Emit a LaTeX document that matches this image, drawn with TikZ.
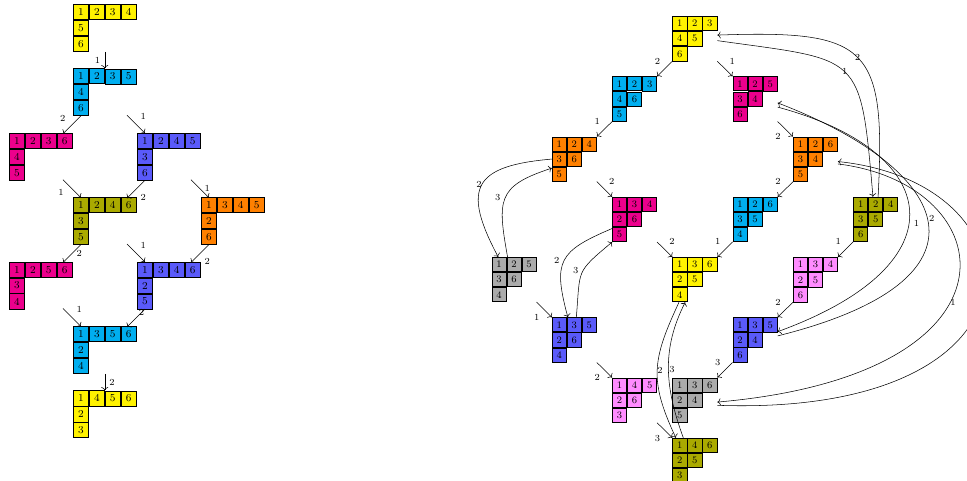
\documentclass[tikz,border=0pt]{standalone}
\usepackage{tikz}
\usepackage{xcolor}
\usetikzlibrary{matrix,arrows.meta,positioning}
\definecolor{tabyellow}{HTML}{FFF200}
\definecolor{tabcyan}{HTML}{00AEEF}
\definecolor{tabmagenta}{HTML}{EC008C}
\definecolor{tabblue}{HTML}{5A5AFA}
\definecolor{taborange}{HTML}{FF8000}
\definecolor{tabolive}{HTML}{AAAA00}
\definecolor{tabgray}{HTML}{ABABAB}
\definecolor{tabpink}{HTML}{FF8CFF}
\tikzset{
  tabcell/.style={
    draw=black, fill=#1, line width=0.6pt,
    inner sep=0pt, outer sep=0pt
  },
  bigtab/.style={
    matrix of nodes, anchor=north west, inner sep=0pt, outer sep=0pt,
    nodes={tabcell=#1, minimum size=4mm, font=\footnotesize}
  },
  smalltab/.style={
    matrix of nodes, anchor=north west, inner sep=0pt, outer sep=0pt,
    nodes={tabcell=#1, minimum size=3.77mm, font=\fontsize{7.5}{9}\selectfont}
  },
  edgelbl/.style={font=\scriptsize}
}
\begin{document}
\begin{tikzpicture}[x=0.0265cm, y=0.0265cm]
\useasboundingbox (0,0) rectangle (967,-480);

% shape (4,1,1)
\matrix[bigtab=tabyellow]  (ly1) at (73,-4)      {1 & 2 & 3 & 4\\ 5\\ 6\\};
\matrix[bigtab=tabcyan]    (lc1) at (73,-68.4)   {1 & 2 & 3 & 5\\ 4\\ 6\\};
\matrix[bigtab=tabmagenta] (lm1) at (9,-132.8)   {1 & 2 & 3 & 6\\ 4\\ 5\\};
\matrix[bigtab=tabblue]    (lb1) at (137,-132.8) {1 & 2 & 4 & 5\\ 3\\ 6\\};
\matrix[bigtab=tabolive]   (lg1) at (73,-197.2)  {1 & 2 & 4 & 6\\ 3\\ 5\\};
\matrix[bigtab=taborange]  (lo1) at (201,-197.2) {1 & 3 & 4 & 5\\ 2\\ 6\\};
\matrix[bigtab=tabmagenta] (lm2) at (9,-261.6)   {1 & 2 & 5 & 6\\ 3\\ 4\\};
\matrix[bigtab=tabblue]    (lb2) at (137,-261.6) {1 & 3 & 4 & 6\\ 2\\ 5\\};
\matrix[bigtab=tabcyan]    (lc2) at (73,-326)    {1 & 3 & 5 & 6\\ 2\\ 4\\};
\matrix[bigtab=tabyellow]  (ly2) at (73,-390.4)  {1 & 4 & 5 & 6\\ 2\\ 3\\};

\draw[->] (ly1.south) -- (lc1.north) node[edgelbl, midway, left] {1};
\draw[->] (lc1-3-1.south) -- ++(-18,-18) node[edgelbl, pos=0.6, above left] {2};
\draw[<-] (lb1-1-1.north) -- ++(-18,18) node[edgelbl, midway, above right] {1};
\draw[<-] (lg1-1-1.north) -- ++(-18,18) node[edgelbl, pos=0.7, below left] {1};
\draw[->] (lb1-3-1.south) -- ++(-18,-18) node[edgelbl, midway, below right] {2};
\draw[<-] (lo1-1-1.north) -- ++(-18,18) node[edgelbl, midway, right] {1};
\draw[->] (lg1-3-1.south) -- ++(-18,-18) node[edgelbl, midway, right] {2};
\draw[<-] (lb2-1-1.north) -- ++(-18,18) node[edgelbl, midway, above right] {1};
\draw[->] (lo1-3-1.south) -- ++(-18,-18) node[edgelbl, midway, below right] {2};
\draw[<-] (lc2-1-1.north) -- ++(-18,18) node[edgelbl, midway, above right] {1};
\draw[->] (lb2-3-1.south) -- ++(-18,-18) node[edgelbl, pos=0.6, above right] {2};
\draw[->] (lc2.south) -- (ly2.north) node[edgelbl, midway, right] {2};

% shape (3,2,1)
\matrix[smalltab=tabyellow]  (ry1) at (672.3,-16)     {1 & 2 & 3\\ 4 & 5\\ 6\\};
\matrix[smalltab=tabcyan]    (rc1) at (612.1,-76.25)  {1 & 2 & 3\\ 4 & 6\\ 5\\};
\matrix[smalltab=tabmagenta] (rm1) at (732.6,-76.25)  {1 & 2 & 5\\ 3 & 4\\ 6\\};
\matrix[smalltab=taborange]  (ro1) at (551.8,-136.5)  {1 & 2 & 4\\ 3 & 6\\ 5\\};
\matrix[smalltab=taborange]  (ro2) at (792.9,-136.5)  {1 & 2 & 6\\ 3 & 4\\ 5\\};
\matrix[smalltab=tabmagenta] (rm2) at (612.1,-196.75) {1 & 3 & 4\\ 2 & 6\\ 5\\};
\matrix[smalltab=tabcyan]    (rc2) at (732.6,-196.75) {1 & 2 & 6\\ 3 & 5\\ 4\\};
\matrix[smalltab=tabolive]   (rg1) at (853.2,-196.75) {1 & 2 & 4\\ 3 & 5\\ 6\\};
\matrix[smalltab=tabgray]    (rk1) at (491.5,-257)    {1 & 2 & 5\\ 3 & 6\\ 4\\};
\matrix[smalltab=tabyellow]  (ry2) at (672.3,-257)    {1 & 3 & 6\\ 2 & 5\\ 4\\};
\matrix[smalltab=tabpink]    (rp2) at (792.9,-257)    {1 & 3 & 4\\ 2 & 5\\ 6\\};
\matrix[smalltab=tabblue]    (rb1) at (551.8,-317.25) {1 & 3 & 5\\ 2 & 6\\ 4\\};
\matrix[smalltab=tabblue]    (rb2) at (732.6,-317.25) {1 & 3 & 5\\ 2 & 4\\ 6\\};
\matrix[smalltab=tabpink]    (rp1) at (612.1,-377.5)  {1 & 4 & 5\\ 2 & 6\\ 3\\};
\matrix[smalltab=tabgray]    (rk2) at (672.3,-377.5)  {1 & 3 & 6\\ 2 & 4\\ 5\\};
\matrix[smalltab=tabolive]   (rg2) at (672.3,-437.75) {1 & 4 & 6\\ 2 & 5\\ 3\\};

\draw[->] (ry1.south west) -- (rc1.north east) node[edgelbl, midway, above left] {2};
\draw[->] (ry1.south east) -- (rm1.north west) node[edgelbl, midway, above right] {1};
\draw[->] (rc1.south west) -- (ro1.north east) node[edgelbl, midway, above left] {1};
\draw[->] (ro1.south east) -- (rm2.north west) node[edgelbl, midway, above right] {2};
\draw[->] (rm1.south east) -- (ro2.north west) node[edgelbl, midway, below left] {2};
\draw[->] (ro2.south west) -- (rc2.north east) node[edgelbl, midway, above left] {2};
\draw[->] (rm2.south east) -- (ry2.north west) node[edgelbl, midway, above right] {2};
\draw[->] (rc2.south west) -- (ry2.north east) node[edgelbl, midway, above left] {1};
\draw[->] (rg1.south west) -- (rp2.north east) node[edgelbl, midway, above left] {1};
\draw[->] (rp2.south west) -- (rb2.north east) node[edgelbl, midway, above left] {2};
\draw[->] (rb2.south west) -- (rk2.north east) node[edgelbl, midway, above left] {3};
\draw[->] (rk1.south east) -- (rb1.north west) node[edgelbl, midway, below left] {1};
\draw[->] (rb1.south east) -- (rp1.north west) node[edgelbl, midway, below left] {2};
\draw[->] (rp1.south east) -- (rg2.north west) node[edgelbl, midway, below left] {3};

% long loops
\draw[->] (ro1.west) to[out=185, in=118, looseness=1.8]
  node[edgelbl, midway, left, inner sep=0pt] {2} (rk1.125);
\draw[->] (rk1.106) to[out=100, in=198, looseness=1.5]
  node[edgelbl, midway, left] {3} (ro1.202);
\draw[->] (rm2.202) to[out=203, in=105, looseness=1.5]
  node[edgelbl, midway, left] {2} (rb1.106);
\draw[->] (rb1.85) to[out=85, in=220, looseness=1.5]
  node[edgelbl, pos=0.55, left] {3} (rm2.south west);
\draw[->] (ry2.235) to[out=245, in=115, looseness=1.2]
  node[edgelbl, midway, right, inner sep=0pt] {2} (rg2.130);
\draw[->] (rg2.117) to[out=110, in=243]
  node[edgelbl, midway, right, inner sep=0.5pt] {3} (ry2.247);
\draw[->] (ry1.-5) to[out=-8, in=95, looseness=1.7]
  node[edgelbl, midway] {1} (rg1.97);
\draw[->] (rg1.84) to[out=87, in=2, looseness=1.7]
  node[edgelbl, midway] {2} (ry1.9);
\draw[->] (rm1.-20) to[out=-15, in=20, out looseness=1.94, in looseness=2.28]
  node[edgelbl, pos=0.55, right] {1} (rb2.20);
\draw[->] (rb2.10) to[out=14, in=-21, out looseness=2.55, in looseness=2.09]
  node[edgelbl, pos=0.52, right, inner sep=1pt] {2} (rm1.-10);
\draw[->] (ro2.-12) to[out=-7, in=5, out looseness=1.6, in looseness=3.05]
  node[edgelbl, pos=0.57, right, inner sep=0pt] {1} (rk2.-5);
\draw[->] (rk2.-13) to[out=-2, in=-6, out looseness=3.19, in looseness=1.97] (ro2.-6);
\end{tikzpicture}
\end{document}
